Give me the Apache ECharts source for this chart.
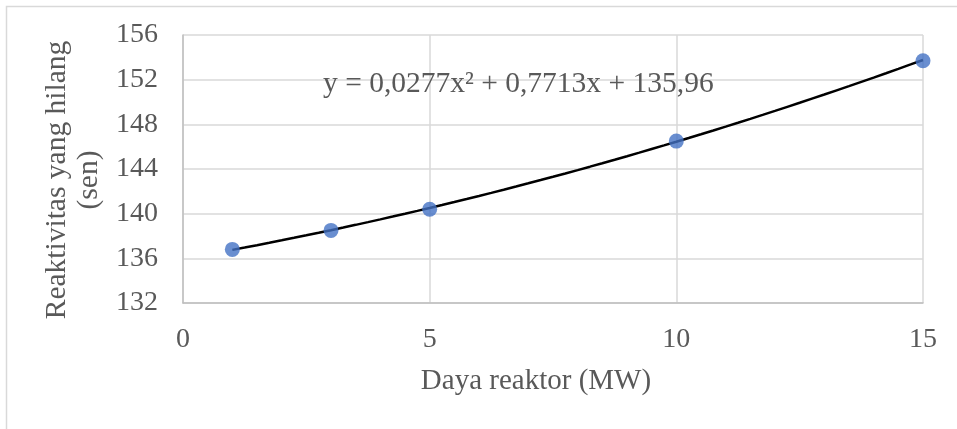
<!DOCTYPE html>
<html>
<head>
<meta charset="utf-8">
<script src="https://cdn.jsdelivr.net/npm/echarts@6/dist/echarts.min.js"></script>
<style>
html,body{margin:0;padding:0;background:#fff;}
#chart{width:957px;height:429px;}
</style>
</head>
<body>
<div id="chart"></div>
<script>
// Data
var powerMW = [1, 3, 5, 10, 15];
var reactivityLoss = [136.8, 138.5, 140.4, 146.5, 153.7];
var xTicks = [0, 5, 10, 15];
var yTicks = [132, 136, 140, 144, 148, 152, 156];
// Trendline coefficients as printed on the chart: y = a x^2 + b x + c
var trendCoef = [0.0277, 0.7713, 135.96];
var equationText = 'y = 0,0277x\u00B2 + 0,7713x + 135,96';

var FONT = '"Liberation Serif", "Times New Roman", serif';

var trend = [];
for (var x = powerMW[0]; x <= powerMW[powerMW.length - 1] + 1e-9; x += 0.25) {
  trend.push([x, trendCoef[0] * x * x + trendCoef[1] * x + trendCoef[2]]);
}

var chart = echarts.init(document.getElementById('chart'), null, {renderer: 'canvas'});
chart.setOption({
  animation: false,
  backgroundColor: '#ffffff',
  grid: {left: 183, right: 34, top: 35, bottom: 126, containLabel: false},
  xAxis: {
    type: 'value',
    min: xTicks[0], max: xTicks[xTicks.length - 1], interval: 5,
    name: 'Daya reaktor (MW)',
    nameLocation: 'middle',
    nameGap: 64,
    nameTextStyle: {fontFamily: FONT, fontSize: 29, color: '#595959', padding: [0, 34, 0, 0]},
    axisLine: {show: true, lineStyle: {color: '#bfbfbf', width: 1.5}},
    axisTick: {show: false},
    axisLabel: {fontFamily: FONT, fontSize: 28, color: '#595959', margin: 23},
    splitLine: {show: true, lineStyle: {color: '#d9d9d9', width: 1.5}}
  },
  yAxis: {
    type: 'value',
    min: yTicks[0], max: yTicks[yTicks.length - 1], interval: 4,
    name: 'Reaktivitas yang hilang\n(sen)',
    nameLocation: 'middle',
    nameRotate: 90,
    nameGap: 74,
    nameTextStyle: {fontFamily: FONT, fontSize: 29.5, color: '#595959', lineHeight: 32, align: 'center', padding: [0, 22, 0, 0]},
    axisLine: {show: true, lineStyle: {color: '#bfbfbf', width: 1.5}},
    axisTick: {show: false},
    axisLabel: {fontFamily: FONT, fontSize: 28, color: '#595959', margin: 25},
    splitLine: {show: true, lineStyle: {color: '#d9d9d9', width: 1.5}}
  },
  series: [
    {
      type: 'line',
      data: trend,
      showSymbol: false,
      smooth: false,
      lineStyle: {color: '#000000', width: 2.5},
      z: 3
    },
    {
      type: 'scatter',
      data: powerMW.map(function (v, i) { return [v, reactivityLoss[i]]; }),
      symbol: 'circle',
      symbolSize: 15,
      itemStyle: {color: '#4472C4'},
      z: 4
    }
  ],
  graphic: [
    {
      type: 'rect',
      shape: {x: 6.5, y: 6.5, width: 1200, height: 1200},
      style: {fill: 'none', stroke: '#d9d9d9', lineWidth: 1.5},
      z: -1
    },
    {
      type: 'text',
      left: 323,
      top: 69,
      style: {text: equationText, font: '29.5px ' + FONT, fill: '#595959'},
      z: 10
    }
  ]
});
</script>
</body>
</html>
